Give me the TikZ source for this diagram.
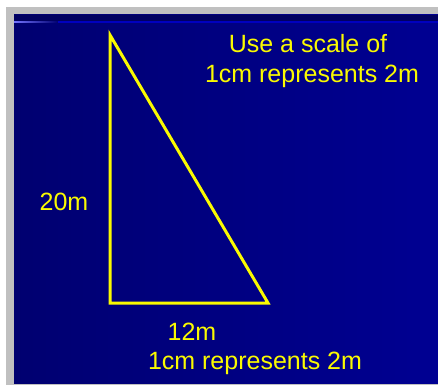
\documentclass[tikz,border=0pt]{standalone}
\usepackage{fontspec}
\setmainfont{Liberation Sans}
\usetikzlibrary{calc}

\definecolor{slideleft}{RGB}{0,0,112}
\definecolor{slideright}{RGB}{0,0,146}
\definecolor{slidetop}{RGB}{0,0,96}
\definecolor{framegray}{RGB}{192,192,192}
\definecolor{chalk}{RGB}{250,250,0}

\begin{document}
\begin{tikzpicture}[x=1pt,y=-1pt,
  lbl/.style={text=chalk,font=\fontsize{25}{30}\selectfont,anchor=base,inner sep=0pt},
  side/.style={draw=chalk,line width=3pt,line join=miter}]
\useasboundingbox (0,0) rectangle (438,385);
\fill[white] (0,0) rectangle (438,385);
% frame and slide
\fill[framegray] (6,7) rectangle (438,385);
\shade[left color=slideleft,right color=slideright] (14,15) rectangle (438,383.5);
\fill[slidetop] (14,15) rectangle (438,21.5);
\shade[left color=white!45!blue,right color=slideleft] (14,21.5) rectangle (58,23);
\fill[blue!55!slideleft] (58,21.5) rectangle (438,23);
% triangle
\coordinate (top) at (110,35);
\coordinate (corner) at (110,303);
\coordinate (foot) at (268,303);
\draw[side] (top) -- (corner) -- (foot) -- cycle;
% labels
\node[lbl] (scale1) at (308,53) {Use a scale of};
\node[lbl] (scale2) at (312,83) {1cm represents 2m};
\node[lbl] (height) at (64,210) {20m};
\node[lbl] (base) at (192,340) {12m};
\node[lbl] (rule) at (255,369) {1cm represents 2m};
\end{tikzpicture}
\end{document}
